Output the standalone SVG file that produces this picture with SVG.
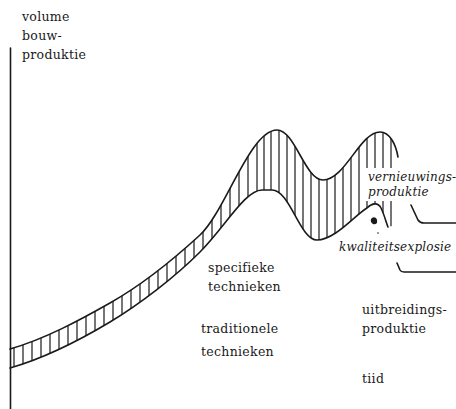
<svg xmlns="http://www.w3.org/2000/svg" width="456" height="409" viewBox="0 0 456 409">
<style>
.t{font-family:"DejaVu Serif","Liberation Serif",serif;font-size:12.5px;letter-spacing:0.3px;fill:#1a1a1a}
.i{font-family:"DejaVu Serif","Liberation Serif",serif;font-size:12px;font-style:italic;letter-spacing:0.2px;fill:#1a1a1a}
.c{fill:none;stroke:#1a1a1a;stroke-width:1.6;stroke-linecap:round;stroke-linejoin:round}
.h{fill:none;stroke:#1a1a1a;stroke-width:1.2}
</style>
<defs>
<clipPath id="bandClip">
<path d="M10,349 C45,339 80,320 110,303 C140,286 175,258 200,235 C225,212 250,130 277,130 C295,130 305,180 323,180 C345,180 360,132 380,132 C390,132 396,145 398,157 L392,226 L388,227 C386,222 384,214 381,208 C378,202 372,203 367,208 C355,215 335,240 317,240 C300,240 290,190 272,190 L262,190 C245,190 225,227 200,252 C175,277 140,304 110,322 C80,340 45,358 10,368 Z"/>
</clipPath>
</defs>
<rect width="456" height="409" fill="#fff"/>
<g id="axis">
<line x1="10.5" y1="48" x2="10.5" y2="409" class="c"/>
</g>
<g id="band">
<g clip-path="url(#bandClip)">
<path class="h" d="M14,120V380M23,120V380M32,120V380M41,120V380M50,120V380M59,120V380M68,120V380M77,120V380M86,120V380M95,120V380M104,120V380M113,120V380M122,120V380M131,120V380M140,120V380M149,120V380M158,120V380M167,120V380M176,120V380M185,120V380M194,120V380M203,120V380M212,120V380M221,120V380M230,120V380M239,120V380M248,120V380M257,120V380M264,120V380M271,120V380M279,120V380M287,120V380M295,120V380M303,120V380M311,120V380M319,120V380M327,120V380M335,120V380M343,120V380M351,120V380M359,120V380M367,120V380M375,120V380M383,120V380M391,120V380"/>
</g>
<path id="upper" class="c" d="M10,349 C45,339 80,320 110,303 C140,286 175,258 200,235 C225,212 250,130 277,130 C295,130 305,180 323,180 C345,180 360,132 380,132 C390,132 396,145 398,157"/>
<path id="lower" class="c" d="M10,368 C45,358 80,340 110,322 C140,304 175,277 200,252 C225,227 245,190 262,190 L272,190 C290,190 300,240 317,240 C335,240 355,215 367,208 C372,203 378,202 381,208 C384,214 386,222 388,227"/>
<path d="M371,219 q2,-3 5,-1 q2,2 1,5 q-2,2 -4,1 q-3,-2 -2,-5z" fill="#1a1a1a"/>
<circle cx="378" cy="233" r="0.8" fill="#1a1a1a"/>
<rect x="365" y="168" width="91" height="33" fill="#fff"/>
</g>
<g id="connectors">
<path class="c" d="M411,205 L418,220 Q420,223 424,223 L456,223"/>
<path class="c" d="M397,263 L400,270 Q401,272 404,272 L456,272"/>
</g>
<g id="label-y">
<text class="t" x="22" y="21">volume</text>
<text class="t" x="22" y="40">bouw-</text>
<text class="t" x="22" y="59">produktie</text>
</g>
<g id="label-specifiek">
<text class="t" x="208" y="272">specifieke</text>
<text class="t" x="208" y="291">technieken</text>
</g>
<g id="label-traditioneel">
<text class="t" x="201" y="333">traditionele</text>
<text class="t" x="201" y="356">technieken</text>
</g>
<g id="label-uitbreiding">
<text class="t" x="362" y="314">uitbreidings-</text>
<text class="t" x="362" y="333">produktie</text>
</g>
<g id="label-x">
<text class="t" x="362" y="383">tiid</text>
</g>
<g id="label-vernieuwing">
<text class="i" x="368" y="181">vernieuwings-</text>
<text class="i" x="368" y="196">produktie</text>
</g>
<g id="label-kwaliteit">
<text class="i" x="339" y="251">kwaliteitsexplosie</text>
</g>
</svg>
